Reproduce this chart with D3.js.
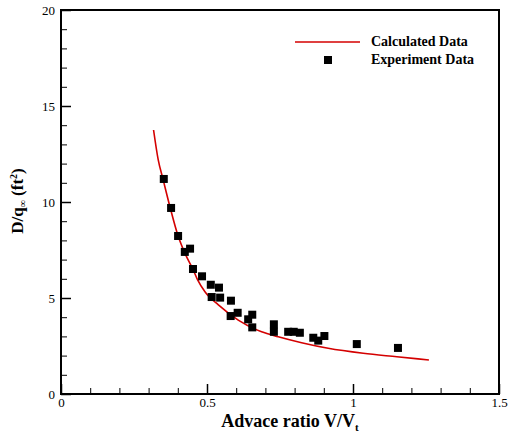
<!doctype html>
<html>
<head>
<meta charset="utf-8">
<title>D/q vs advance ratio</title>
<script src="https://cdn.jsdelivr.net/npm/d3@7"></script>
<style>
  body { margin: 0; background: #fff; }
  svg text { font-family: "Liberation Serif", "Times New Roman", serif; fill: #000; }
  .tick text { font-size: 13px; }
  .bold { font-weight: bold; }
</style>
</head>
<body>
<svg width="515" height="432"></svg>
<script>
// calculated curve
var calcX = [0.317, 0.333, 0.350, 0.373, 0.400, 0.422, 0.453, 0.467, 0.493, 0.539, 0.607, 0.687, 0.744, 0.824, 0.915, 1.035, 1.150, 1.260];
var calcY = [13.75, 12.19, 11.15, 9.76, 8.28, 7.41, 6.46, 5.97, 5.33, 4.64, 3.85, 3.24, 2.98, 2.67, 2.38, 2.12, 1.94, 1.77];

// experiment points
var expX = [0.352, 0.377, 0.401, 0.424, 0.442, 0.452, 0.483, 0.513, 0.541, 0.516, 0.545, 0.582, 0.581, 0.605, 0.641, 0.655, 0.655, 0.729, 0.729, 0.778, 0.797, 0.818, 0.864, 0.881, 0.902, 1.013, 1.154];
var expY = [11.20, 9.69, 8.23, 7.40, 7.57, 6.51, 6.13, 5.69, 5.54, 5.05, 5.02, 4.86, 4.06, 4.23, 3.89, 4.13, 3.47, 3.63, 3.24, 3.24, 3.24, 3.19, 2.93, 2.78, 3.02, 2.60, 2.40];

var xTicks = [0, 0.5, 1, 1.5];
var xTickLabels = ["0", "0.5", "1", "1.5"];
var yTicks = [0, 5, 10, 15, 20];
var legendLabels = ["Calculated Data", "Experiment Data"];

var serif = "Liberation Serif";

var svg = d3.select("svg"),
    margin = { top: 10, right: 16, bottom: 38, left: 61 },
    width = +svg.attr("width") - margin.left - margin.right,
    height = +svg.attr("height") - margin.top - margin.bottom,
    g = svg.append("g").attr("transform", "translate(" + margin.left + "," + margin.top + ")");

var red = "#d40000";

var x = d3.scaleLinear().domain([0, 1.5]).range([0, width]);
var y = d3.scaleLinear().domain([0, 20]).range([height, 0]);

// minor ticks
g.append("g")
    .attr("transform", "translate(0," + height + ")")
    .call(d3.axisBottom(x).tickValues(d3.range(0, 15).map(function(i) { return i / 10; })).tickSize(-6).tickFormat(""))
    .call(function(a) { a.select(".domain").remove(); });

g.append("g")
    .call(d3.axisLeft(y).tickValues(d3.range(0, 20)).tickSize(-6).tickFormat(""))
    .call(function(a) { a.select(".domain").remove(); });

// major ticks
g.append("g")
    .attr("transform", "translate(0," + height + ")")
    .call(d3.axisBottom(x).tickValues(xTicks).tickSize(-10).tickPadding(4)
        .tickFormat(function(d, i) { return xTickLabels[i]; }))
    .attr("font-family", serif).attr("font-size", 13)
    .call(function(a) {
        a.select(".domain").remove();
        a.selectAll("line").attr("stroke-width", 1.5);
    });

g.append("g")
    .call(d3.axisLeft(y).tickValues(yTicks).tickSize(-10).tickPadding(6))
    .attr("font-family", serif).attr("font-size", 13)
    .call(function(a) {
        a.select(".domain").remove();
        a.selectAll("line").attr("stroke-width", 1.5);
    });

// frame
g.append("rect")
    .attr("width", width)
    .attr("height", height)
    .attr("fill", "none")
    .attr("stroke", "#000")
    .attr("stroke-width", 2);

// curve
var line = d3.line()
    .x(function(d) { return x(d[0]); })
    .y(function(d) { return y(d[1]); })
    .curve(d3.curveMonotoneX);

g.append("path")
    .datum(d3.zip(calcX, calcY))
    .attr("d", line)
    .attr("fill", "none")
    .attr("stroke", red)
    .attr("stroke-width", 1.6);

// points
var s = 8;
g.selectAll(".pt")
    .data(d3.zip(expX, expY))
    .enter().append("rect")
    .attr("class", "pt")
    .attr("x", function(d) { return x(d[0]) - s / 2; })
    .attr("y", function(d) { return y(d[1]) - s / 2; })
    .attr("width", s)
    .attr("height", s)
    .attr("fill", "#000");

// legend
var lg = svg.append("g");
lg.append("line")
    .attr("x1", 295).attr("x2", 360)
    .attr("y1", 42).attr("y2", 42)
    .attr("stroke", red).attr("stroke-width", 1.6);
lg.append("rect")
    .attr("x", 324).attr("y", 56).attr("width", 8).attr("height", 8)
    .attr("fill", "#000");
lg.selectAll("text")
    .data(legendLabels)
    .enter().append("text")
    .attr("class", "bold")
    .attr("x", 371)
    .attr("y", function(d, i) { return 46 + i * 18; })
    .attr("font-size", 14)
    .text(function(d) { return d; });

// axis titles
var xt = svg.append("text")
    .attr("class", "bold")
    .attr("x", 290)
    .attr("y", 427)
    .attr("text-anchor", "middle")
    .attr("font-size", 18);
xt.append("tspan").text("Advace ratio V/V");
xt.append("tspan").attr("font-size", 11).attr("dy", 4).text("t");

var yt = svg.append("text")
    .attr("class", "bold")
    .attr("transform", "translate(23,201) rotate(-90)")
    .attr("text-anchor", "middle")
    .attr("font-size", 17);
yt.append("tspan").text("D/q");
yt.append("tspan").attr("font-size", 10).attr("dy", 3).text("\u221E");
yt.append("tspan").attr("dy", -3).text(" (ft");
yt.append("tspan").attr("font-size", 10).attr("dy", -6).text("2");
yt.append("tspan").attr("dy", 6).text(")");
</script>
</body>
</html>
